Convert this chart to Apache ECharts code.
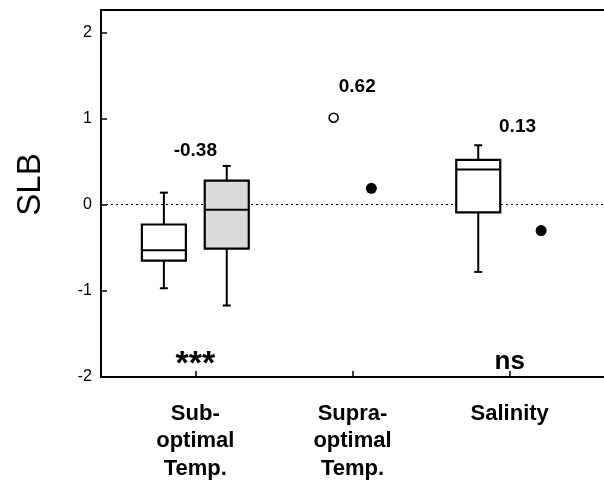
<!DOCTYPE html>
<html>
<head>
<meta charset="utf-8">
<script src="https://cdn.jsdelivr.net/npm/echarts@6/dist/echarts.min.js"></script>
<style>html,body{margin:0;padding:0;background:#fff;}#c{width:604px;height:483px;}</style>
</head>
<body>
<div id="c"></div>
<script>
// ---- data ----
const categories = ['Sub-\noptimal\nTemp.', 'Supra-\noptimal\nTemp.', 'Salinity'];
const categoryPos = [1, 2, 3];
const yTicks = [-2, -1, 0, 1, 2];
const boxX = [0.8, 1.2, 2.8];
const boxLow = [-0.97, -1.17, -0.78];
const boxQ1 = [-0.65, -0.51, -0.09];
const boxMedian = [-0.53, -0.06, 0.41];
const boxQ3 = [-0.23, 0.28, 0.52];
const boxHigh = [0.14, 0.45, 0.69];
const openPoints = [[1.88, 1.01]];
const filledPoints = [[2.12, 0.19], [3.2, -0.30]];
const effectText = ['-0.38', '0.62', '0.13'];
const effectX = [1.0, 2.03, 3.05];
const effectY = [0.63, 1.37, 0.90];
const sigText = ['***', 'ns'];
const sigX = [1.0, 3.0];
const sigY = [-1.82, -1.82];

// ---- chart ----
const FONT = '"Liberation Sans", Arial, sans-serif';
const boxFills = ['#ffffff', '#dadada', '#ffffff'];
const chart = echarts.init(document.getElementById('c'), null, {renderer: 'canvas'});

const boxData = boxX.map((x, i) => [x, boxLow[i], boxQ1[i], boxMedian[i], boxQ3[i], boxHigh[i], i]);

const option = {
  backgroundColor: '#fff',
  animation: false,
  grid: {left: 101, right: 0, top: 10, bottom: 106},
  xAxis: [{
    type: 'value', min: 0.4, max: 3.6,
    splitLine: {show: false},
    axisLine: {show: true, onZero: false, lineStyle: {color: '#000', width: 2}},
    axisTick: {show: true, inside: true, length: 6, customValues: categoryPos, lineStyle: {color: '#000', width: 1.5}},
    axisLabel: {show: true, customValues: categoryPos, margin: 23,
      formatter: v => categories[Math.round(v) - 1] || '',
      fontFamily: FONT, fontWeight: 'bold', fontSize: 22, lineHeight: 27.5, color: '#000'}
  }, {
    type: 'value', min: 0.4, max: 3.6, position: 'top',
    splitLine: {show: false},
    axisLine: {show: true, onZero: false, lineStyle: {color: '#000', width: 2}},
    axisTick: {show: false}, axisLabel: {show: false}
  }],
  yAxis: {
    type: 'value', min: -2, max: 2.26,
    splitLine: {show: false},
    axisLine: {show: true, onZero: false, lineStyle: {color: '#000', width: 2}},
    axisTick: {show: true, inside: true, length: 6, customValues: yTicks, lineStyle: {color: '#000', width: 1.5}},
    axisLabel: {show: true, customValues: yTicks, margin: 9, fontFamily: FONT, fontSize: 16, color: '#000'},
    name: 'SLB', nameLocation: 'middle', nameGap: 54,
    nameTextStyle: {fontFamily: FONT, fontSize: 33, color: '#000', padding: [0, 0, 0, 18]}
  },
  series: [
    {
      type: 'line', data: [], silent: true, z: 1,
      markLine: {
        silent: true, symbol: 'none', label: {show: false},
        lineStyle: {type: [2, 3], color: '#000', width: 1, opacity: 1},
        data: [{yAxis: 0}]
      }
    },
    {
      type: 'custom', z: 5,
      encode: {x: 0, y: [1, 2, 3, 4, 5]},
      data: boxData,
      renderItem: function (params, api) {
        const x = api.value(0);
        const idx = api.value(6);
        const lo = api.coord([x, api.value(1)]);
        const q1 = api.coord([x, api.value(2)]);
        const med = api.coord([x, api.value(3)]);
        const q3 = api.coord([x, api.value(4)]);
        const hi = api.coord([x, api.value(5)]);
        const halfW = api.size([0.14, 0])[0];
        const cx = lo[0];
        const cap = 4;
        const ls = {stroke: '#000', lineWidth: 2, fill: null};
        return {
          type: 'group',
          children: [
            {type: 'line', shape: {x1: cx, y1: hi[1], x2: cx, y2: q3[1]}, style: ls},
            {type: 'line', shape: {x1: cx, y1: q1[1], x2: cx, y2: lo[1]}, style: ls},
            {type: 'line', shape: {x1: cx - cap, y1: hi[1], x2: cx + cap, y2: hi[1]}, style: ls},
            {type: 'line', shape: {x1: cx - cap, y1: lo[1], x2: cx + cap, y2: lo[1]}, style: ls},
            {type: 'rect', shape: {x: cx - halfW, y: q3[1], width: 2 * halfW, height: q1[1] - q3[1]},
              style: {fill: boxFills[idx], stroke: '#000', lineWidth: 2.2}},
            {type: 'line', shape: {x1: cx - halfW, y1: med[1], x2: cx + halfW, y2: med[1]}, style: ls}
          ]
        };
      }
    },
    {
      type: 'scatter', z: 6, data: openPoints, symbol: 'circle', symbolSize: 9,
      itemStyle: {color: '#fff', borderColor: '#000', borderWidth: 1.6, opacity: 1}
    },
    {
      type: 'scatter', z: 6, data: filledPoints, symbol: 'circle', symbolSize: 11,
      itemStyle: {color: '#000', opacity: 1}
    },
    {
      type: 'scatter', z: 7, symbolSize: 0,
      itemStyle: {opacity: 1},
      data: effectX.map((x, i) => [x, effectY[i], effectText[i]]),
      label: {show: true, position: 'inside', formatter: p => p.value[2],
        fontFamily: FONT, fontWeight: 'bold', fontSize: 19, color: '#000', textBorderWidth: 0}
    },
    {
      type: 'scatter', z: 7, symbolSize: 0,
      itemStyle: {opacity: 1},
      data: sigX.map((x, i) => [x, sigY[i], sigText[i]]),
      label: {show: true, position: 'inside', formatter: p => p.value[2],
        fontFamily: FONT, fontWeight: 'bold', fontSize: 26, color: '#000', textBorderWidth: 0,
        rich: {}}
    },
    {
      type: 'scatter', z: 7, symbolSize: 0,
      itemStyle: {opacity: 1},
      data: [[sigX[0], sigY[0] - 0.04, sigText[0]]],
      label: {show: true, position: 'inside', formatter: p => p.value[2],
        fontFamily: FONT, fontWeight: 'bold', fontSize: 34, color: '#000', textBorderWidth: 0}
    }
  ]
};
// '***' is drawn by the last series in a larger size; hide it in the shared one
option.series[5].data = [[sigX[1], sigY[1], sigText[1]]];
chart.setOption(option);
</script>
</body>
</html>
